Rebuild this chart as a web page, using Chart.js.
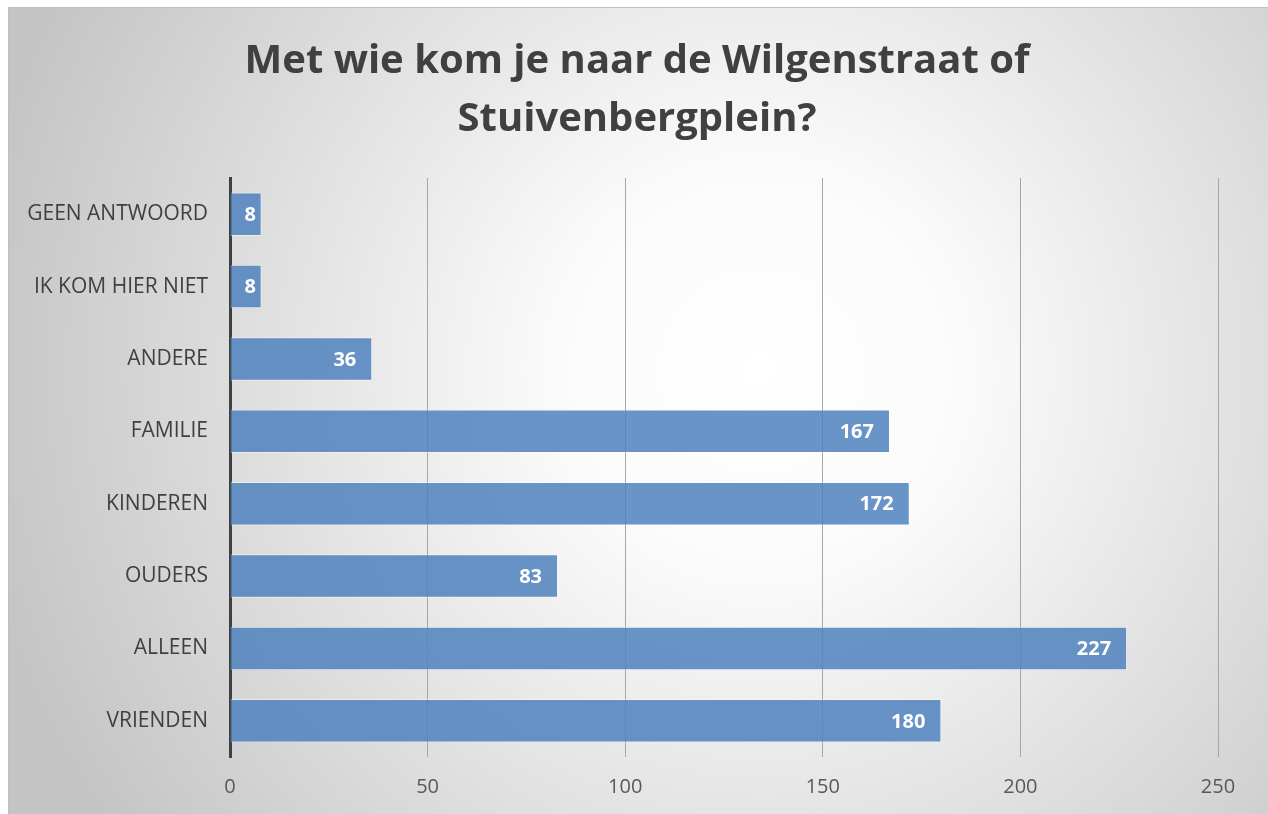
<!DOCTYPE html>
<html>
<head>
<meta charset="utf-8">
<script src="https://cdn.jsdelivr.net/npm/chart.js@4"></script>
<style>
  html, body { margin: 0; padding: 0; background: #ffffff; }
  #wrap { width: 1268px; height: 814px; position: relative; }
</style>
</head>
<body>
<div id="wrap"><canvas id="chart" width="1268" height="814"></canvas></div>
<script>
// chart data
const categories = ['GEEN ANTWOORD', 'IK KOM HIER NIET', 'ANDERE', 'FAMILIE', 'KINDEREN', 'OUDERS', 'ALLEEN', 'VRIENDEN'];
const counts = [8, 8, 36, 167, 172, 83, 227, 180];
const xTicks = [0, 50, 100, 150, 200, 250];
const titleLines = ['Met wie kom je naar de Wilgenstraat of', 'Stuivenbergplein?'];

// gradient background + frame behind the chart
const backgroundPlugin = {
    id: 'backgroundPlugin',
    beforeDraw(chart) {
        const ctx = chart.ctx;
        ctx.save();
        ctx.fillStyle = '#ffffff';
        ctx.fillRect(0, 0, chart.width, chart.height);
        const g = ctx.createRadialGradient(760, 370, 0, 760, 370, 800);
        g.addColorStop(0, '#ffffff');
        g.addColorStop(0.25, '#fbfbfb');
        g.addColorStop(1, '#c4c4c4');
        ctx.fillStyle = g;
        ctx.fillRect(8, 7, chart.width - 8, chart.height - 7);
        ctx.strokeStyle = '#bfbfbf';
        ctx.lineWidth = 1;
        ctx.beginPath();
        ctx.moveTo(8.5, chart.height);
        ctx.lineTo(8.5, 7.5);
        ctx.lineTo(chart.width, 7.5);
        ctx.stroke();
        ctx.restore();
    }
};

// title centred on the whole frame, not on the padded layout box
const titlePlugin = {
    id: 'titlePlugin',
    afterDraw(chart) {
        const ctx = chart.ctx;
        ctx.save();
        ctx.font = 'bold 40px "Open Sans"';
        ctx.fillStyle = '#404040';
        ctx.textAlign = 'center';
        ctx.textBaseline = 'middle';
        titleLines.forEach(function(line, i) {
            ctx.fillText(line, 637, 62 + i * 58);
        });
        ctx.restore();
    }
};

// white value labels inside the end of each bar
const valueLabels = {
    id: 'valueLabels',
    afterDatasetsDraw(chart) {
        const ctx = chart.ctx;
        const meta = chart.getDatasetMeta(0);
        ctx.save();
        ctx.font = 'bold 20px "Open Sans"';
        ctx.fillStyle = '#ffffff';
        ctx.textAlign = 'left';
        ctx.textBaseline = 'middle';
        meta.data.forEach(function(bar, i) {
            const text = String(counts[i]);
            const w = ctx.measureText(text).width;
            let x = bar.x - 16 - w;
            if (x < bar.base + 14) x = bar.base + 14;
            ctx.fillText(text, x, bar.y + 1);
        });
        ctx.restore();
    }
};

const ctx = document.getElementById('chart').getContext('2d');

new Chart(ctx, {
    type: 'bar',
    data: {
        labels: categories,
        datasets: [{
            data: counts,
            backgroundColor: 'rgba(79, 129, 189, 0.85)',
            borderColor: 'rgba(255, 255, 255, 0.45)',
            borderWidth: 1,
            categoryPercentage: 1,
            barPercentage: 0.6
        }]
    },
    options: {
        indexAxis: 'y',
        responsive: false,
        animation: false,
        layout: {
            padding: { left: 0, right: 50, top: 178, bottom: 0 }
        },
        plugins: {
            legend: { display: false },
            tooltip: { enabled: false },
            title: { display: false }
        },
        scales: {
            x: {
                min: 0,
                max: 250,
                afterBuildTicks(scale) {
                    scale.ticks = xTicks.map(v => ({ value: v }));
                },
                afterFit(scale) {
                    scale.height = 57;
                },
                grid: {
                    color: '#a6a6a6',
                    lineWidth: 1,
                    drawTicks: false
                },
                border: { display: false },
                ticks: {
                    color: '#595959',
                    font: { family: '"Open Sans"', size: 20 },
                    padding: 18
                }
            },
            y: {
                afterFit(scale) {
                    scale.width = 230;
                },
                grid: { display: false, drawTicks: false },
                border: { display: true, color: '#404040', width: 3 },
                ticks: {
                    color: '#404040',
                    font: { family: '"Open Sans"', size: 21 },
                    padding: 22
                }
            }
        }
    },
    plugins: [backgroundPlugin, valueLabels, titlePlugin]
});
</script>
</body>
</html>
